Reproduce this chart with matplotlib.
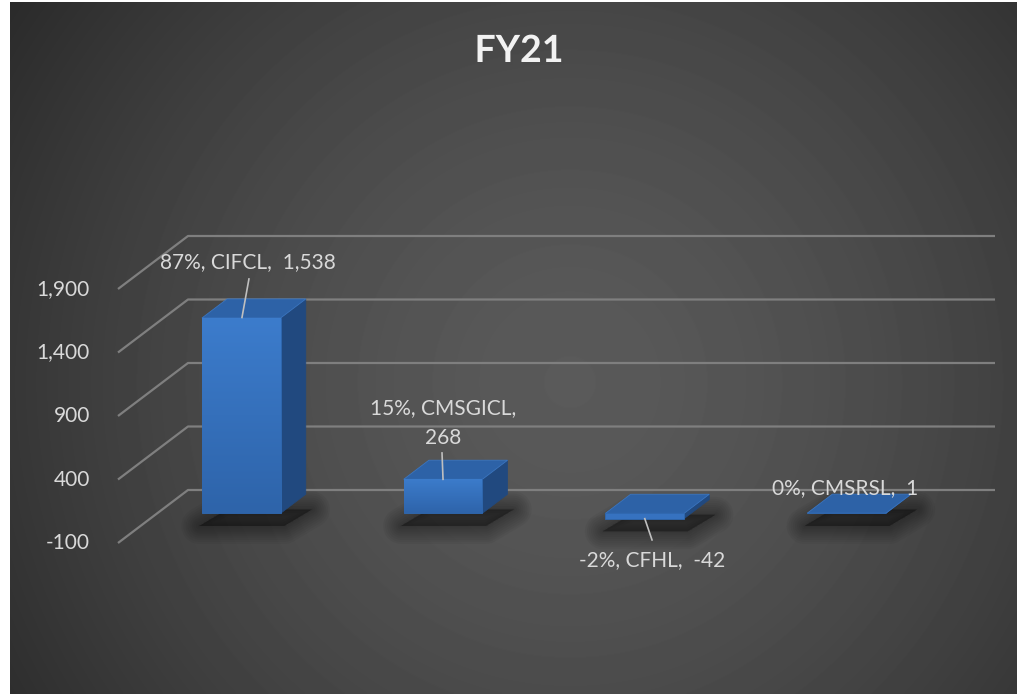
import numpy as np
import matplotlib.pyplot as plt
from matplotlib.patches import Polygon
from matplotlib.colors import LinearSegmentedColormap
import matplotlib.patheffects as pe

plt.rcParams['font.family'] = ['Lato', 'DejaVu Sans']

# chart data
companies = ['CIFCL', 'CMSGICL', 'CFHL', 'CMSRSL']
values = [1538, 268, -42, 1]
shares = ['87%', '15%', '-2%', '0%']
ticks = [-100, 400, 900, 1400, 1900]
title = 'FY21'

W, H = 1017, 694
fig = plt.figure(figsize=(W / 100, H / 100), dpi=100, facecolor='white')

# dark radial background (chart area starts a bit in from the left/top)
bg = fig.add_axes([10 / W, 0, (W - 10) / W, (H - 2) / H])
yy, xx = np.mgrid[0:692, 0:1007]
r = np.clip(np.hypot(xx - 560, yy - 380) / 720, 0, 1) ** 1.5
bg.imshow((90 - 52 * r) / 255, cmap='gray', vmin=0, vmax=1,
          aspect='auto', interpolation='bilinear')
bg.axis('off')

# main axes: category units across, value units up, oblique depth
ax = fig.add_axes([0, 0, 1, 1])
ax.patch.set_alpha(0)
ax.axis('off')

PX_CAT = 201.75      # pixels per category
PX_VAL = 0.127       # pixels per value unit
DX = 70 / PX_CAT     # depth offset in category units
DY = 53 / PX_VAL     # depth offset in value units
xlim = (-0.5 - 118 / PX_CAT, -0.5 + (W - 118) / PX_CAT)
ylim = (-100 - 151 / PX_VAL, -100 + 543 / PX_VAL)


def P(c, v, d):
    return (c + d * DX, v + d * DY)


# gridlines on side + back wall, tick labels
for t in ticks:
    pts = [P(-0.5, t, 0), P(-0.5, t, 1), P(3.5, t, 1)]
    ax.plot(*zip(*pts), color='#7f7f7f', lw=1.6, zorder=1,
            solid_capstyle='butt')
    ax.text(-0.5 - 28 / PX_CAT, t, f'{t:,}', ha='right', va='center',
            fontsize=15, color='#d9d9d9', zorder=5)

bw = 0.39
d0, d1 = 0.32, 0.68
front_grad = np.linspace(0, 1, 64).reshape(-1, 1)
front_cmap = LinearSegmentedColormap.from_list('f', ['#2e64aa', '#3c7ccc'])

for i, v in enumerate(values):
    lo, hi = min(0, v), max(0, v)
    xl, xr = i - bw / 2, i + bw / 2

    # soft shadow on the floor
    sh = [P(xl - 0.03, lo - 120, d0 + 0.05), P(xr, lo - 120, d0 + 0.05),
          P(xr + 0.03, lo - 120, d1), P(xl, lo - 120, d1)]
    for lw in range(26, 0, -3):
        ax.add_patch(Polygon(sh, closed=True, fc=(0, 0, 0, 0.04),
                             ec=(0, 0, 0, 0.04), lw=lw, joinstyle='round',
                             zorder=2))

    # right side
    side = [P(xr, lo, d0), P(xr, lo, d1), P(xr, hi, d1), P(xr, hi, d0)]
    ax.add_patch(Polygon(side, closed=True, fc='#21497f', ec='#21497f',
                         lw=0.5, zorder=3))
    # top
    top = [P(xl, hi, d0), P(xr, hi, d0), P(xr, hi, d1), P(xl, hi, d1)]
    ax.add_patch(Polygon(top, closed=True, fc='#2d62a7', ec='#3a75c0',
                         lw=0.6, zorder=3))
    # front with vertical gradient
    front = [P(xl, lo, d0), P(xr, lo, d0), P(xr, hi, d0), P(xl, hi, d0)]
    fp = Polygon(front, closed=True, fc='#3672c0', ec='#2f68b0', lw=0.6,
                 zorder=3)
    ax.add_patch(fp)
    if hi - lo > 100:
        x0, y0 = P(xl, lo, d0)
        x1, y1 = P(xr, hi, d0)
        im = ax.imshow(front_grad, cmap=front_cmap, origin='lower',
                       extent=[x0, x1, y0, y1], aspect='auto', zorder=3.5,
                       interpolation='bilinear')
        im.set_clip_path(fp)

# data labels (positions relative to each category)
label_off = [(0.144, 2112), (0.111, 845), (0.147, -234), (0.104, 333)]
leader_top = [(0.149, 1979), (0.106, 609), (0.147, -76), None]
leader_bot_d = [0.33, 0.32, 0.32, None]
for i, v in enumerate(values):
    txt = f'{shares[i]}, {companies[i]},  {v:,}'
    if i == 1:
        txt = f'{shares[i]}, {companies[i]},\n{v:,}'
    lx, ly = label_off[i]
    ax.text(i + lx, ly, txt, ha='center', va='center', fontsize=15,
            color='#d9d9d9', linespacing=1.6, zorder=6)
    if leader_top[i] is not None:
        tx, ty = leader_top[i]
        bx, by = P(i, v, leader_bot_d[i])
        ax.plot([i + tx, bx], [ty, by], color='#bfbfbf', lw=1.2, zorder=6)

ax.set_xlim(*xlim)
ax.set_ylim(*ylim)

fig.text(519 / W, 1 - 51 / H, title, ha='center', va='center', fontsize=27,
         fontweight='bold', color='#f2f2f2',
         path_effects=[pe.SimplePatchShadow(offset=(1.5, -1.5), alpha=0.5),
                       pe.Normal()])

fig.savefig('out.png', dpi=100, facecolor=fig.get_facecolor())
